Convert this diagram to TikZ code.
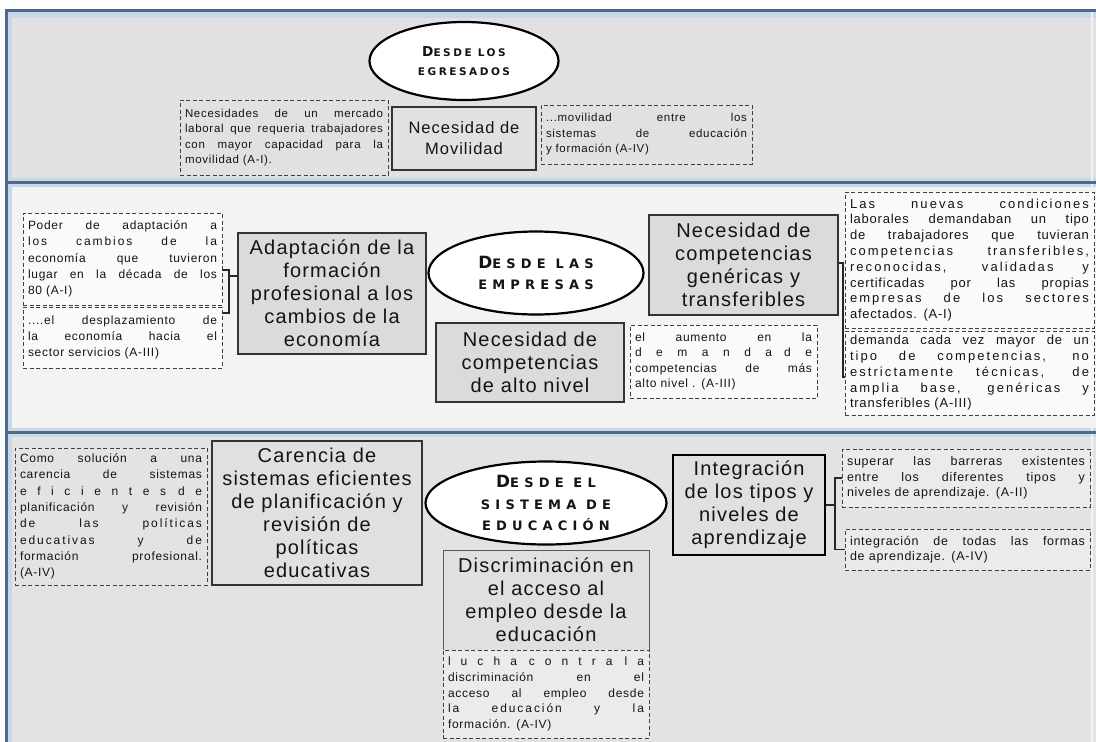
\documentclass[tikz,border=0pt]{standalone}
\usepackage{fontspec}
\usepackage{graphicx}
\usetikzlibrary{shapes.geometric}
\setmainfont{Liberation Sans}
\newfontfamily\txtf[LetterSpace=6]{Liberation Sans}
\newfontfamily\lsf[LetterSpace=16]{Liberation Sans}
\newfontfamily\boxf[LetterSpace=6]{Liberation Sans}
\newfontfamily\capf[LetterSpace=24]{DejaVu Sans}
\newfontfamily\capfw[LetterSpace=40]{DejaVu Sans}
\newcommand\jl[1]{\makebox[\hsize][s]{\spaceskip=.25em plus 1fil\xspaceskip=\spaceskip\relax #1}\\}
\newcommand\jls[1]{\makebox[\hsize][s]{\lsf\spaceskip=.25em plus 1fil\xspaceskip=\spaceskip\relax #1}\\}
\newcommand\initD{\scalebox{1.3}{D}}
\definecolor{secA}{HTML}{E1E1E1}
\definecolor{secB}{HTML}{F3F3F3}
\definecolor{secC}{HTML}{E3E3E3}
\definecolor{frameblue}{HTML}{4D6A88}
\definecolor{bandblue}{HTML}{C9D7E6}
\definecolor{inkc}{HTML}{141414}
\tikzset{
  mainbox/.style={draw=black!80, line width=1.2pt, fill=#1, align=center, inner sep=2pt,
    font=\boxf\fontsize{20}{23}\selectfont, text=inkc},
  dbox/.style={draw=black!75, dash pattern=on 4pt off 2.5pt, line width=0.9pt, fill=#1,
    align=left, inner xsep=5pt, inner ysep=3pt, text=inkc},
  oval/.style={ellipse, draw=black, line width=2.2pt, fill=white, align=center, inner sep=0pt,
    font=\capfw\bfseries\fontsize{13}{21.5}\selectfont, text=inkc},
  conn/.style={draw=black!85, line width=1.1pt},
  frameline/.style={draw=frameblue, line width=3pt},
  bandline/.style={draw=bandblue, line width=9pt}
}
\begin{document}
\begin{tikzpicture}[x=1pt,y=-1pt]
\useasboundingbox (0,0) rectangle (1096,742);
\fill[white] (0,0) rectangle (1096,742);
\fill[secA] (6,10) rectangle (1096,182);
\fill[secB] (6,182) rectangle (1096,432);
\fill[secC] (6,432) rectangle (1096,742);
% frame bands and lines
\draw[bandline] (6,13) -- (1096,13);
\draw[bandline] (6,182) -- (1096,182);
\draw[bandline] (6,432) -- (1096,432);
\draw[draw=bandblue, line width=4pt] (10,10) -- (10,742);
\draw[draw=white!70!bandblue, line width=2.5pt] (1092,12) -- (1092,742);
\draw[frameline] (1096,10) -- (6,10) -- (6,742);
\draw[frameline] (6,182) -- (1096,182);
\draw[frameline] (6,432) -- (1096,432);

% ---------------- Section 1 ----------------
\node[oval, minimum width=189, minimum height=78, font=\capf\bfseries\fontsize{10.5}{19}\selectfont] (e1) at (464,61)
  {\initD ESDE LOS\\EGRESADOS};
\node[dbox=secA, minimum width=208, minimum height=75, text width=198,
  font=\txtf\fontsize{11.5}{15.5}\selectfont] (d1) at (284,137.5)
  {\jl{Necesidades de un mercado}\jl{laboral que requeria trabajadores}\jl{con mayor capacidad para la}movilidad (A-I).};
\node[mainbox=secA, minimum width=144, minimum height=63,
  font=\boxf\fontsize{16.5}{21}\selectfont] (b1) at (464,138.5)
  {Necesidad de\\Movilidad};
\node[dbox=secA, minimum width=211, minimum height=59, text width=201,
  font=\txtf\fontsize{11.5}{15.5}\selectfont] (d2) at (646.5,134.5)
  {\jl{...movilidad entre los}\jl{sistemas de educación}y formación (A-IV)};

% ---------------- Section 2 ----------------
\node[dbox=white!60!secB, minimum width=199, minimum height=92, text width=189,
  font=\txtf\fontsize{12}{16.3}\selectfont] (dl1) at (122.5,259)
  {\jl{Poder de adaptación a}\jls{los cambios de la}\jl{economía que tuvieron}\jl{lugar en la década de los}80 (A-I)};
\node[dbox=white!60!secB, minimum width=199, minimum height=61, text width=189,
  font=\txtf\fontsize{12}{16.3}\selectfont] (dl2) at (122.5,337.5)
  {\jl{....el desplazamiento de}\jl{la economía hacia el}sector servicios (A-III)};
\node[mainbox=black!14, minimum width=188, minimum height=121] (b2) at (332,293.5)
  {Adaptación de la\\formación\\profesional a los\\cambios de la\\economía};
\node[oval, minimum width=215, minimum height=83] (e2) at (536,273)
  {\initD ESDE LAS\\EMPRESAS};
\node[mainbox=black!14, minimum width=189, minimum height=100] (b3) at (743.5,265)
  {Necesidad de\\competencias\\genéricas y\\transferibles};
\node[mainbox=black!14, minimum width=188, minimum height=79] (b4) at (530,362.5)
  {Necesidad de\\competencias\\de alto nivel};
\node[dbox=white!60!secB, minimum width=187, minimum height=73, text width=177,
  font=\txtf\fontsize{12}{15.5}\selectfont] (d3) at (723.5,361.5)
  {\jl{el aumento en la}\jl{d e m a n d a\quad d e}\jl{competencias de más}alto nivel . (A-III)};
\node[dbox=white!60!secB, minimum width=249, minimum height=136, text width=239,
  font=\txtf\fontsize{13}{15.8}\selectfont] (dr1) at (969.5,260)
  {\jls{Las nuevas condiciones}\jl{laborales demandaban un tipo}\jl{de trabajadores que tuvieran}\jls{competencias transferibles,}\jls{reconocidas, validadas y}\jl{certificadas por las propias}\jls{empresas de los sectores}afectados. (A-I)};
\node[dbox=white!60!secB, minimum width=249, minimum height=84, text width=239,
  font=\txtf\fontsize{13}{15.8}\selectfont] (dr2) at (969.5,373)
  {\jl{demanda cada vez mayor de un}\jls{tipo de competencias, no}\jls{estrictamente técnicas, de}\jls{amplia base, genéricas y}transferibles (A-III)};

\coordinate (jL) at (229,276);
\draw[conn] ([yshift=17.5pt]b2.west) -- (jL);
\draw[conn] ([yshift=-11pt]dl1.east) -| (jL) |- ([yshift=24.5pt]dl2.east);
\coordinate (jR) at (843,263);
\draw[conn] ([yshift=2pt]b3.east) -- (jR) |- ([yshift=-4pt]dr2.west);

% ---------------- Section 3 ----------------
\node[dbox=secC, minimum width=192, minimum height=137, text width=182,
  font=\txtf\fontsize{12}{16.3}\selectfont] (d4) at (111,516.5)
  {\jl{Como solución a una}\jl{carencia de sistemas}\jl{e f i c i e n t e s\quad d e}\jl{planificación y revisión}\jls{de las políticas}\jls{educativas y de}\jl{formación profesional.}(A-IV)};
\node[mainbox=black!12, minimum width=210, minimum height=144] (b5) at (317,513)
  {Carencia de\\sistemas eficientes\\de planificación y\\revisión de\\políticas\\educativas};
\node[oval, minimum width=241, minimum height=83] (e3) at (546,503)
  {\initD ESDE EL\\SISTEMA DE\\EDUCACIÓN};
\node[mainbox=black!12, draw=black!65, line width=0.9pt, minimum width=206, minimum height=100] (b6) at (546,600)
  {Discriminación en\\el acceso al\\empleo desde la\\educación};
\node[dbox=white!30!secC, minimum width=206, minimum height=88, text width=196,
  font=\txtf\fontsize{12}{15.8}\selectfont] (d5) at (546,694)
  {\jl{l u c h a\quad c o n t r a\quad l a}\jl{discriminación en el}\jl{acceso al empleo desde}\jls{la educación y la}formación. (A-IV)};
\node[mainbox=black!12, draw=black, line width=1.6pt, minimum width=152, minimum height=100] (b7) at (749,505)
  {Integración\\de los tipos y\\niveles de\\aprendizaje};
\node[dbox=white!30!secC, minimum width=248, minimum height=58, text width=238,
  font=\txtf\fontsize{12.5}{15.5}\selectfont] (d6) at (966,478)
  {\jl{superar las barreras existentes}\jl{entre los diferentes tipos y}niveles de aprendizaje. (A-II)};
\node[dbox=white!30!secC, minimum width=245, minimum height=41, text width=235,
  font=\txtf\fontsize{12.5}{15.5}\selectfont] (d7) at (967.5,549.5)
  {\jl{integración de todas las formas}de aprendizaje. (A-IV)};

\coordinate (j3) at (835,505);
\draw[conn] (b7.east) -- (j3);
\draw[conn] (d6.west) -| (j3) |- (d7.west);
\end{tikzpicture}
\end{document}
